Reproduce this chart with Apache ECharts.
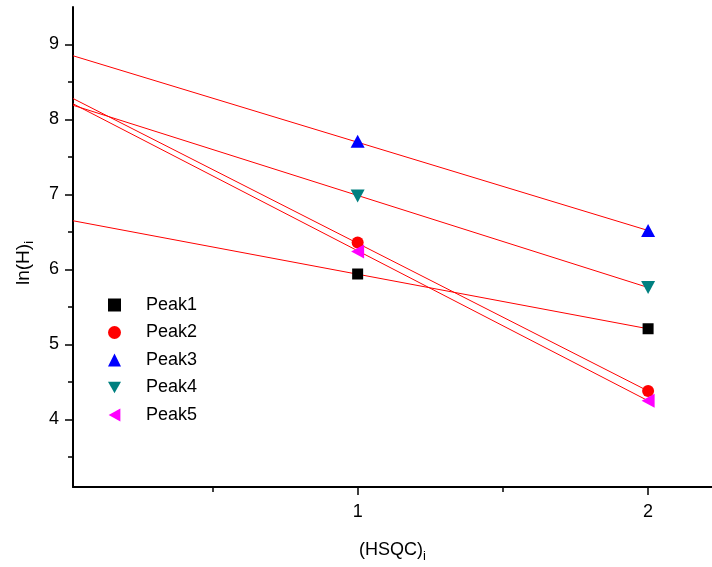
<!DOCTYPE html>
<html>
<head>
<meta charset="utf-8">
<script src="https://cdn.jsdelivr.net/npm/echarts@6/dist/echarts.min.js"></script>
<style>
  html, body { margin: 0; padding: 0; background: #fff; }
  #chart { width: 712px; height: 567px; }
</style>
</head>
<body>
<div id="chart"></div>
<script>
// data
var xVals = [1, 2];
var peakNames = ['Peak1', 'Peak2', 'Peak3', 'Peak4', 'Peak5'];
var peak1 = [5.94, 5.21];
var peak2 = [6.36, 4.38];
var peak3 = [7.71, 6.52];
var peak4 = [6.98, 5.76];
var peak5 = [6.24, 4.25];
// fitted lines start at the left edge of the plot
var fitStartX = 0.02;
var fitStartY = [6.65, 8.28, 8.85, 8.19, 8.21];
var fitEndX = 2;

var xMajorTicks = [1, 2];
var xMinorTicks = [0.5, 1.5];
var yMajorTicks = [4, 5, 6, 7, 8, 9];
var yMinorTicks = [3.5, 4.5, 5.5, 6.5, 7.5, 8.5];

window.onload = function() {
    var myChart = echarts.init(document.getElementById('chart'));

    var peaks = [peak1, peak2, peak3, peak4, peak5];
    var colors = ['#000000', '#ff0000', '#0000ff', '#008080', '#ff00ff'];
    var symbols = [
        'rect',
        'circle',
        'triangle',
        'path://M0,0 L10,0 L5,9 Z',
        'path://M9,0 L9,10 L0,5 Z'
    ];
    var sizes = [11, 12, [14, 13], [14, 13], [13, 14]];

    var series = [];
    // red fit lines
    for (var i = 0; i < peaks.length; i++) {
        series.push({
            name: 'fit' + (i + 1),
            type: 'line',
            data: [[fitStartX, fitStartY[i]], [fitEndX, peaks[i][1]]],
            symbol: 'none',
            lineStyle: { color: '#ff0000', width: 1 },
            silent: true,
            z: 2
        });
    }
    // scatter points
    for (var j = 0; j < peaks.length; j++) {
        series.push({
            name: peakNames[j],
            type: 'scatter',
            symbol: symbols[j],
            symbolSize: sizes[j],
            itemStyle: { color: colors[j], opacity: 1 },
            data: xVals.map(function(x, k) { return [x, peaks[j][k]]; }),
            z: 3
        });
    }

    var font = 'Liberation Sans, Arial, sans-serif';

    var option = {
        animation: false,
        textStyle: { fontFamily: font, color: '#000' },
        grid: { left: 73, right: 0, top: 7, bottom: 80, outerBoundsMode: 'none', containLabel: false },
        legend: {
            data: peakNames.map(function(n, k) {
                return { name: n, icon: symbols[k] };
            }),
            orient: 'vertical',
            left: 103,
            top: 291,
            itemWidth: 13,
            itemHeight: 13,
            itemGap: 9.5,
            textStyle: { fontFamily: font, fontSize: 18, color: '#000', padding: [0, 0, 0, 20] }
        },
        xAxis: [{
            type: 'value',
            min: 0.02,
            max: 2.22,
            name: '{a|(HSQC)}{b|i}',
            nameLocation: 'middle',
            nameGap: 54,
            nameTextStyle: {
                rich: {
                    a: { fontFamily: font, fontSize: 18, color: '#000', lineHeight: 22, verticalAlign: 'top' },
                    b: { fontFamily: font, fontSize: 13, color: '#000', lineHeight: 22, verticalAlign: 'bottom', padding: [11, 0, 0, 0] }
                }
            },
            axisLine: { show: true, onZero: false, lineStyle: { color: '#000', width: 2 } },
            axisTick: { show: true, inside: false, length: 8, customValues: xMajorTicks, lineStyle: { color: '#000', width: 1.5 } },
            axisLabel: { show: true, customValues: xMajorTicks, margin: 16, fontSize: 18, color: '#000', fontFamily: font },
            splitLine: { show: false }
        }, {
            type: 'value',
            min: 0.02,
            max: 2.22,
            position: 'bottom',
            axisLine: { show: false, onZero: false },
            axisTick: { show: true, inside: false, length: 5, customValues: xMinorTicks, lineStyle: { color: '#000', width: 1.5 } },
            axisLabel: { show: false },
            splitLine: { show: false }
        }],
        yAxis: [{
            type: 'value',
            min: 3.1,
            max: 9.5,
            name: '{a|ln(H)}{b|i}',
            nameLocation: 'middle',
            nameRotate: 90,
            nameGap: 37,
            nameTextStyle: {
                padding: [0, 32, 0, 0],
                rich: {
                    a: { fontFamily: font, fontSize: 19, color: '#000', lineHeight: 22, verticalAlign: 'top' },
                    b: { fontFamily: font, fontSize: 13, color: '#000', lineHeight: 22, verticalAlign: 'bottom', padding: [11, 0, 0, 0] }
                }
            },
            axisLine: { show: true, onZero: false, lineStyle: { color: '#000', width: 2 } },
            axisTick: { show: true, inside: false, length: 8, customValues: yMajorTicks, lineStyle: { color: '#000', width: 1.5 } },
            axisLabel: { show: true, customValues: yMajorTicks, margin: 14, fontSize: 18, color: '#000', fontFamily: font },
            splitLine: { show: false }
        }, {
            type: 'value',
            min: 3.1,
            max: 9.5,
            position: 'left',
            axisLine: { show: false, onZero: false },
            axisTick: { show: true, inside: false, length: 5, customValues: yMinorTicks, lineStyle: { color: '#000', width: 1.5 } },
            axisLabel: { show: false },
            splitLine: { show: false }
        }],
        series: series
    };

    myChart.setOption(option);
};
</script>
</body>
</html>
